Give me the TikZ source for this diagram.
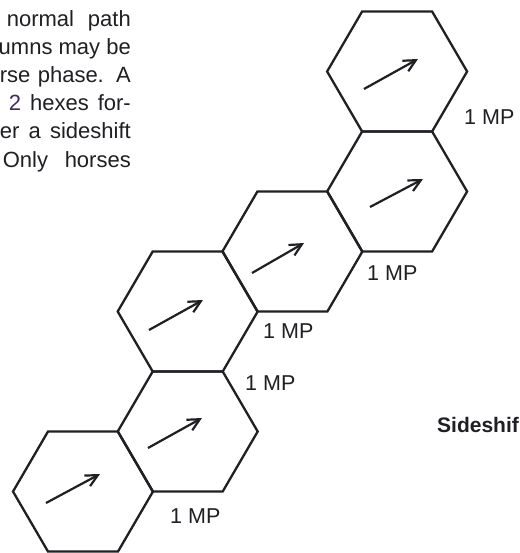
\documentclass[tikz,border=0pt]{standalone}
\usepackage{fontspec}
\setmainfont{Liberation Sans}
\usetikzlibrary{arrows.meta}
\definecolor{inkgray}{rgb}{0.12,0.12,0.14}
\definecolor{inkpurple}{rgb}{0.24,0.17,0.38}
\begin{document}
\begin{tikzpicture}[x=1pt,y=-1pt,
  hexline/.style={line width=2.3pt, line join=miter, draw=inkgray},
  hexarrow/.style={line width=2.2pt, draw=inkgray, -{Straight Barb[length=12pt,width=12pt]}},
  mp/.style={inner sep=0pt, anchor=base west, text=inkgray, font=\fontsize{21.5}{26}\selectfont},
  bodyline/.style={inner sep=0pt, anchor=base east, text=inkgray, font=\fontsize{22}{26}\selectfont},
  hexcell/.pic={\draw[hexline] (-70,0) -- (-35,-60) -- (35,-60) -- (70,0) -- (35,60) -- (-35,60) -- cycle;}]
\fill[white] (0,0) rectangle (519,553);
\useasboundingbox (0,0) rectangle (519,553);

% hex centres
\coordinate (h1) at (83,491.5);
\coordinate (h2) at (187.7,431.5);
\coordinate (h3) at (187.7,311.5);
\coordinate (h4) at (292.4,251.5);
\coordinate (h5) at (397.1,191.5);
\coordinate (h6) at (397.1,71.5);
\foreach \h in {h1,h2,h3,h4,h5,h6} { \pic at (\h) {hexcell}; }

% arrows inside the hexes
\coordinate (a1s) at (46,503);   \coordinate (a1e) at (100,474);
\coordinate (a2s) at (148,448);  \coordinate (a2e) at (202,418);
\coordinate (a3s) at (149,330);  \coordinate (a3e) at (203,300);
\coordinate (a4s) at (252,273);  \coordinate (a4e) at (304,243);
\coordinate (a5s) at (370,207);  \coordinate (a5e) at (423,179);
\coordinate (a6s) at (364,89);   \coordinate (a6e) at (418,59);
\foreach \i in {1,...,6} { \draw[hexarrow] (a\i s) -- (a\i e); }

% movement cost labels
\node[mp] (mp1) at (170,523) {1 MP};
\node[mp] (mp2) at (245,390) {1 MP};
\node[mp] (mp3) at (263,338) {1 MP};
\node[mp] (mp4) at (367,280) {1 MP};
\node[mp] (mp5) at (464,125) {1 MP};

% side label
\node[inner sep=0pt, anchor=base west, text=inkgray, font=\fontsize{21}{26}\selectfont\bfseries] (side) at (437,432) {Sideshif};

% cut-off paragraph at top left
\node[bodyline] (t1) at (131,27)  {\makebox[124pt][s]{normal path}};
\node[bodyline] (t2) at (131,55)  {umns may be};
\node[bodyline] (t3) at (131,83)  {\makebox[131pt][s]{rse phase. A}};
\node[bodyline] (t4) at (131,111) {\makebox[122pt][s]{\textcolor{inkpurple}{2} hexes for-}};
\node[bodyline] (t5) at (131,139) {\makebox[131pt][s]{er a sideshift}};
\node[bodyline] (t6) at (131,168) {\makebox[128pt][s]{Only horses}};
\end{tikzpicture}
\end{document}
